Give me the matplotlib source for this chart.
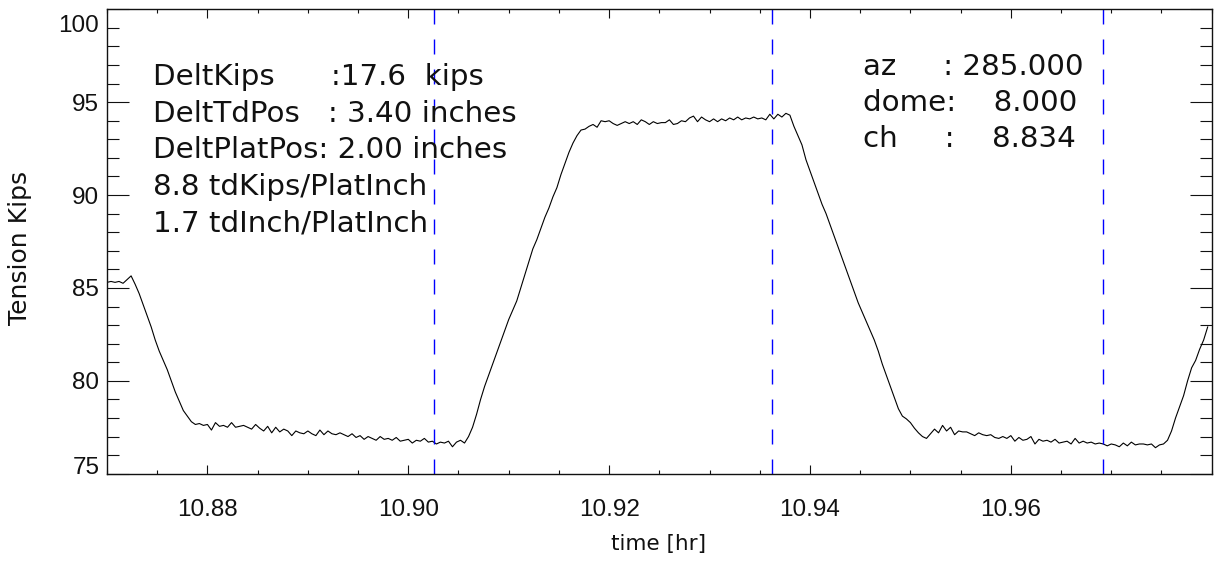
import numpy as np
import matplotlib
matplotlib.use("Agg")
import matplotlib.pyplot as plt
from matplotlib.ticker import MultipleLocator, FixedLocator, FormatStrFormatter
from matplotlib.transforms import ScaledTranslation

# tension trace, sampled every 0.0004 hr from 10.870 hr
t_start = 10.870
t_step = 0.0004
kips = [
    85.3, 85.35, 85.3, 85.35, 85.25, 85.45, 85.65, 85.2, 84.7, 84.1,
    83.5, 82.9, 82.2, 81.6, 81.1, 80.6, 80.0, 79.4, 78.9, 78.4,
    78.1, 77.8, 77.65, 77.7, 77.6, 77.65, 77.35, 77.75, 77.55, 77.6,
    77.5, 77.75, 77.5, 77.55, 77.6, 77.5, 77.4, 77.65, 77.45, 77.3,
    77.55, 77.2, 77.5, 77.25, 77.4, 77.3, 77.05, 77.3, 77.2, 77.15,
    77.3, 77.15, 77.05, 77.35, 77.1, 77.3, 77.15, 77.1, 77.2, 77.1,
    77.0, 77.15, 76.95, 77.05, 76.85, 77.0, 76.9, 76.8, 77.0, 76.85,
    76.9, 76.8, 76.95, 76.75, 76.8, 76.85, 76.65, 76.8, 76.75, 76.9,
    76.7, 76.75, 76.6, 76.7, 76.65, 76.75, 76.45, 76.7, 76.8, 76.65,
    77.0, 77.5, 78.2, 79.0, 79.7, 80.3, 80.9, 81.5, 82.1, 82.7,
    83.3, 83.8, 84.3, 85.0, 85.7, 86.4, 87.1, 87.6, 88.2, 88.8,
    89.3, 89.9, 90.4, 91.1, 91.7, 92.3, 92.8, 93.2, 93.5, 93.55,
    93.7, 93.8, 93.65, 94.0, 93.95, 94.0, 93.85, 93.75, 93.85, 93.95,
    93.85, 93.95, 93.8, 94.05, 93.95, 93.8, 93.95, 93.85, 93.9, 93.9,
    94.05, 93.8, 93.85, 94.0, 93.95, 94.15, 94.25, 93.95, 94.2, 94.05,
    93.95, 94.1, 93.95, 94.1, 94.0, 94.15, 94.05, 94.2, 94.05, 94.15,
    94.1, 94.2, 94.1, 94.15, 94.05, 94.35, 94.1, 94.35, 94.2, 94.4,
    94.3, 93.7, 93.2, 92.7, 91.9, 91.3, 90.7, 90.1, 89.5, 89.0,
    88.4, 87.8, 87.2, 86.6, 86.0, 85.4, 84.8, 84.2, 83.7, 83.2,
    82.7, 82.2, 81.6, 80.9, 80.3, 79.7, 79.1, 78.5, 78.1, 77.95,
    77.75, 77.45, 77.2, 77.0, 76.9, 77.15, 77.4, 77.2, 77.6, 77.3,
    77.5, 77.1, 77.3, 77.25, 77.25, 77.15, 77.05, 77.2, 77.1, 77.05,
    77.1, 76.95, 76.9, 77.0, 76.9, 77.05, 76.75, 76.95, 76.8, 76.85,
    77.0, 76.6, 76.85, 76.75, 76.8, 76.7, 76.85, 76.65, 76.7, 76.75,
    76.6, 76.9, 76.65, 76.75, 76.65, 76.7, 76.6, 76.65, 76.6, 76.5,
    76.6, 76.55, 76.45, 76.65, 76.5, 76.7, 76.55, 76.6, 76.6, 76.55,
    76.6, 76.4, 76.55, 76.6, 76.8, 77.3, 78.0, 78.6, 79.2, 80.0,
    80.7, 81.1, 81.7, 82.2, 82.9,
]
time_hr = t_start + t_step * np.arange(len(kips))

# event markers (blue dashed)
marks = [10.9026, 10.9362, 10.9692]

x_ticks = [10.88, 10.90, 10.92, 10.94, 10.96]

left_lines = [
    "DeltKips      :17.6  kips",
    "DeltTdPos   : 3.40 inches",
    "DeltPlatPos: 2.00 inches",
    "8.8 tdKips/PlatInch",
    "1.7 tdInch/PlatInch",
]
right_lines = [
    "az     : 285.000",
    "dome:    8.000",
    "ch     :    8.834",
]

W, H = 1214, 566
ink = "#111111"
fig = plt.figure(figsize=(W / 100, H / 100), dpi=100)
ax = fig.add_axes([107 / W, (H - 473.7) / H, 1104.7 / W, 464.4 / H])

ax.plot(time_hr, kips, color="black", lw=0.8)
for m in marks:
    ax.axvline(m, color="blue", lw=1.0, dashes=(10.8, 10.8))

ax.set_xlim(10.87, 10.98)
ax.set_ylim(75, 100)
ax.xaxis.set_major_locator(FixedLocator(x_ticks))
ax.xaxis.set_minor_locator(MultipleLocator(0.005))
ax.xaxis.set_major_formatter(FormatStrFormatter("%.2f"))
ax.yaxis.set_major_locator(MultipleLocator(5))
ax.yaxis.set_minor_locator(MultipleLocator(1))
ax.yaxis.set_major_formatter(FormatStrFormatter("%d"))

for s in ax.spines.values():
    s.set_linewidth(1.0)
    s.set_color(ink)
ax.tick_params(which="both", direction="in", top=True, right=True,
               width=0.8, color=ink, labelcolor=ink)
ax.tick_params(axis="x", which="major", length=6.5, pad=18,
               labelsize=17.5)
ax.tick_params(axis="x", which="minor", length=3.2)
ax.tick_params(axis="y", which="major", length=15.8, pad=5.5,
               labelsize=17.5)
ax.tick_params(axis="y", which="minor", length=8.6)
for lab in ax.get_xticklabels() + ax.get_yticklabels():
    lab.set_fontfamily("Liberation Sans")

# IDL pulls the end labels inside the box
fig.canvas.draw()
for tick in ax.yaxis.get_major_ticks():
    v = tick.get_loc()
    if abs(v - 100) < 1e-6:
        tick.label1.set_transform(tick.label1.get_transform()
                                  + ScaledTranslation(0, -0.14, fig.dpi_scale_trans))
    elif abs(v - 75) < 1e-6:
        tick.label1.set_transform(tick.label1.get_transform()
                                  + ScaledTranslation(0, 0.08, fig.dpi_scale_trans))

fig.text(659 / W, 1 - 550 / H, "time [hr]", ha="center", va="baseline",
         fontsize=15.5, family="DejaVu Sans", color=ink)
fig.text(20.5 / W, 1 - 248 / H, "Tension Kips", ha="center", va="center",
         rotation=90, fontsize=18, family="DejaVu Sans", color=ink)

y0 = (473.7 - 85) / 464.4
for k, line in enumerate(left_lines):
    ax.text((152.7 - 107) / 1104.7, y0 - k * 36.7 / 464.4, line,
            transform=ax.transAxes, va="baseline", ha="left",
            fontsize=21.2, family="DejaVu Sans", color=ink)
y1 = (473.7 - 75) / 464.4
for k, line in enumerate(right_lines):
    ax.text((862.7 - 107) / 1104.7, y1 - k * 36 / 464.4, line,
            transform=ax.transAxes, va="baseline", ha="left",
            fontsize=21.2, family="DejaVu Sans", color=ink)

fig.savefig("out.png", dpi=100)
